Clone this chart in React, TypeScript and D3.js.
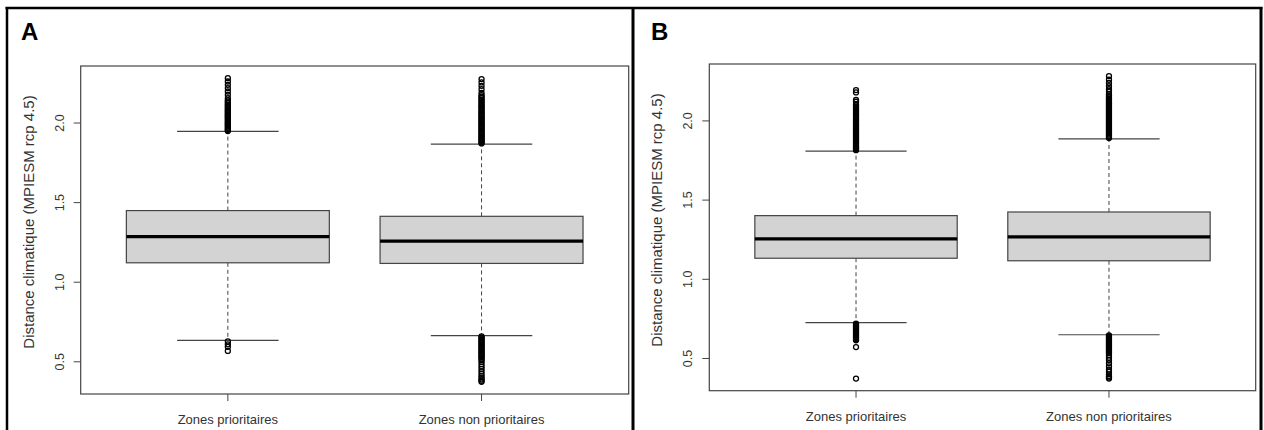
import React from "react";
import * as d3 from "d3";

// Group names and axis ticks
const categories = ["Zones prioritaires", "Zones non prioritaires"];
const panelLetters = ["A", "B"];
const yTicks = [0.5, 1.0, 1.5, 2.0];
const yTitle = "Distance climatique (MPIESM rcp 4.5)";

// Panel A: five-number summaries per group
const whiskerLowA = [0.635, 0.665];
const q1A = [1.122, 1.118];
const medianA = [1.287, 1.258];
const q3A = [1.45, 1.414];
const whiskerHighA = [1.947, 1.868];

// Panel B: five-number summaries per group
const whiskerLowB = [0.726, 0.65];
const q1B = [1.133, 1.117];
const medianB = [1.255, 1.268];
const q3B = [1.402, 1.425];
const whiskerHighB = [1.809, 1.887];

// Outlying points, panel A
const outliersA1 = [
  1.95, 1.957, 1.963, 1.97, 1.978, 1.985, 1.991, 1.998, 2.005, 2.012, 2.02, 2.027,
  2.034, 2.041, 2.048, 2.055, 2.062, 2.07, 2.077, 2.084, 2.092, 2.1, 2.108, 2.116,
  2.125, 2.134, 2.142, 2.156, 2.177, 2.198, 2.219, 2.24, 2.261, 2.282,
  0.628, 0.61, 0.594, 0.568,
];
const outliersA2 = [
  1.872, 1.879, 1.886, 1.893, 1.9, 1.908, 1.915, 1.922, 1.93, 1.937, 1.944, 1.952,
  1.96, 1.967, 1.975, 1.982, 1.99, 1.997, 2.005, 2.013, 2.02, 2.028, 2.035, 2.043,
  2.05, 2.058, 2.066, 2.073, 2.081, 2.089, 2.097, 2.105, 2.113, 2.121, 2.13, 2.138,
  2.147, 2.156, 2.165, 2.175, 2.19, 2.213, 2.234, 2.255, 2.276,
  0.66, 0.652, 0.645, 0.638, 0.63, 0.623, 0.616, 0.608, 0.601, 0.594, 0.586, 0.579,
  0.572, 0.565, 0.557, 0.55, 0.543, 0.535, 0.528, 0.52, 0.512, 0.5, 0.485, 0.47,
  0.455, 0.44, 0.425, 0.412, 0.4, 0.39, 0.381, 0.374,
];

// Outlying points, panel B
const outliersB1 = [
  1.815, 1.822, 1.829, 1.836, 1.843, 1.85, 1.857, 1.864, 1.871, 1.878, 1.885, 1.892,
  1.9, 1.907, 1.914, 1.921, 1.928, 1.935, 1.943, 1.95, 1.957, 1.964, 1.972, 1.979,
  1.986, 1.994, 2.001, 2.009, 2.016, 2.024, 2.032, 2.04, 2.048, 2.056, 2.064, 2.072,
  2.08, 2.089, 2.098, 2.106, 2.12, 2.132, 2.18, 2.195,
  0.72, 0.713, 0.706, 0.699, 0.692, 0.685, 0.678, 0.671, 0.664, 0.657, 0.65, 0.643,
  0.636, 0.629, 0.622, 0.615, 0.572, 0.373,
];
const outliersB2 = [
  1.892, 1.899, 1.906, 1.913, 1.92, 1.927, 1.934, 1.941, 1.948, 1.955, 1.962, 1.969,
  1.976, 1.983, 1.99, 1.997, 2.004, 2.011, 2.018, 2.025, 2.032, 2.039, 2.046, 2.053,
  2.06, 2.067, 2.074, 2.081, 2.088, 2.095, 2.102, 2.11, 2.118, 2.126, 2.134, 2.142,
  2.15, 2.16, 2.17, 2.185, 2.2, 2.22, 2.24, 2.26, 2.283,
  0.645, 0.638, 0.631, 0.624, 0.617, 0.61, 0.603, 0.596, 0.589, 0.582, 0.575, 0.568,
  0.561, 0.554, 0.547, 0.54, 0.533, 0.52, 0.505, 0.49, 0.47, 0.45, 0.43, 0.415,
  0.4, 0.388, 0.38, 0.373,
];

const FONT = "'Liberation Sans', Arial, sans-serif";
const TEXT = "#333";
const LINE = "#444";

type PanelProps = {
  letter: string;
  frameX: number;
  left: number;
  right: number;
  top: number;
  bottom: number;
  titleY: number;
  low: number[];
  q1: number[];
  med: number[];
  q3: number[];
  high: number[];
  outliers: number[][];
};

// R-style 4% padding of a range
const pad = (lo: number, hi: number): [number, number] => {
  const d = (hi - lo) * 0.04;
  return [lo - d, hi + d];
};

function Panel(p: PanelProps) {
  const all = [...p.low, ...p.high, ...p.outliers.flat()];
  const [yMin, yMax] = d3.extent(all) as [number, number];
  const y = d3.scaleLinear().domain(pad(yMin, yMax)).range([p.bottom, p.top]);
  const x = d3.scaleLinear().domain(pad(0.5, categories.length + 0.5)).range([p.left, p.right]);
  const boxHalf = 0.4;
  const stapleHalf = 0.2;

  return (
    <g>
      <text x={p.frameX + 14} y={40} fontFamily={FONT} fontWeight="bold" fontSize={24} fill="#000">
        {p.letter}
      </text>

      {categories.map((c, i) => {
        const cx = x(i + 1);
        return (
          <g key={c}>
            {/* whiskers */}
            <line x1={cx} x2={cx} y1={y(p.q3[i])} y2={y(p.high[i])} stroke={LINE} strokeDasharray="4,3" />
            <line x1={cx} x2={cx} y1={y(p.q1[i])} y2={y(p.low[i])} stroke={LINE} strokeDasharray="4,3" />
            {/* staples */}
            <line x1={x(i + 1 - stapleHalf)} x2={x(i + 1 + stapleHalf)} y1={y(p.high[i])} y2={y(p.high[i])} stroke={LINE} strokeWidth={1.2} />
            <line x1={x(i + 1 - stapleHalf)} x2={x(i + 1 + stapleHalf)} y1={y(p.low[i])} y2={y(p.low[i])} stroke={LINE} strokeWidth={1.2} />
            {/* box */}
            <rect
              x={x(i + 1 - boxHalf)}
              y={y(p.q3[i])}
              width={x(i + 1 + boxHalf) - x(i + 1 - boxHalf)}
              height={y(p.q1[i]) - y(p.q3[i])}
              fill="#d3d3d3"
              stroke={LINE}
              strokeWidth={1.2}
            />
            <line x1={x(i + 1 - boxHalf)} x2={x(i + 1 + boxHalf)} y1={y(p.med[i])} y2={y(p.med[i])} stroke="#000" strokeWidth={3.2} />
            {/* outliers */}
            {p.outliers[i].map((v, k) => (
              <circle key={k} cx={cx} cy={y(v)} r={2.5} fill="none" stroke="#000" strokeWidth={1.3} />
            ))}
            {/* x tick + label */}
            <line x1={cx} x2={cx} y1={p.bottom} y2={p.bottom + 7} stroke={LINE} />
            <text x={cx} y={p.bottom + 30} textAnchor="middle" fontFamily={FONT} fontSize={13} fill={TEXT}>
              {c}
            </text>
          </g>
        );
      })}

      {/* y axis */}
      {yTicks.map((t) => (
        <g key={t}>
          <line x1={p.left - 7} x2={p.left} y1={y(t)} y2={y(t)} stroke={LINE} />
          <text
            transform={`translate(${p.left - 17},${y(t)}) rotate(-90)`}
            textAnchor="middle"
            fontFamily={FONT}
            fontSize={12.5}
            fill={TEXT}
          >
            {t.toFixed(1)}
          </text>
        </g>
      ))}
      <text
        transform={`translate(${p.left - 47},${p.titleY}) rotate(-90)`}
        textAnchor="middle"
        fontFamily={FONT}
        fontSize={15}
        fill={TEXT}
      >
        {yTitle}
      </text>

      {/* plot frame */}
      <rect x={p.left} y={p.top} width={p.right - p.left} height={p.bottom - p.top} fill="none" stroke={LINE} strokeWidth={1.2} />
    </g>
  );
}

export default function App() {
  return (
    <svg width={1264} height={430} style={{ position: "absolute", left: 0, top: 0, background: "#fff" }}>
      <rect width={1264} height={430} fill="#fff" />
      <Panel
        letter={panelLetters[0]}
        frameX={7}
        left={80.7}
        right={628.7}
        top={66}
        bottom={394}
        titleY={222}
        low={whiskerLowA}
        q1={q1A}
        med={medianA}
        q3={q3A}
        high={whiskerHighA}
        outliers={[outliersA1, outliersA2]}
      />
      <Panel
        letter={panelLetters[1]}
        frameX={637}
        left={709.3}
        right={1255.7}
        top={64}
        bottom={390.7}
        titleY={220}
        low={whiskerLowB}
        q1={q1B}
        med={medianB}
        q3={q3B}
        high={whiskerHighB}
        outliers={[outliersB1, outliersB2]}
      />
      {/* outer frame and panel divider */}
      <line x1={5.5} x2={1262.5} y1={8} y2={8} stroke="#000" strokeWidth={2.5} />
      <line x1={7} x2={7} y1={7} y2={430} stroke="#000" strokeWidth={2.5} />
      <line x1={633} x2={633} y1={7} y2={430} stroke="#000" strokeWidth={3} />
      <line x1={1261} x2={1261} y1={7} y2={430} stroke="#000" strokeWidth={3} />
    </svg>
  );
}
